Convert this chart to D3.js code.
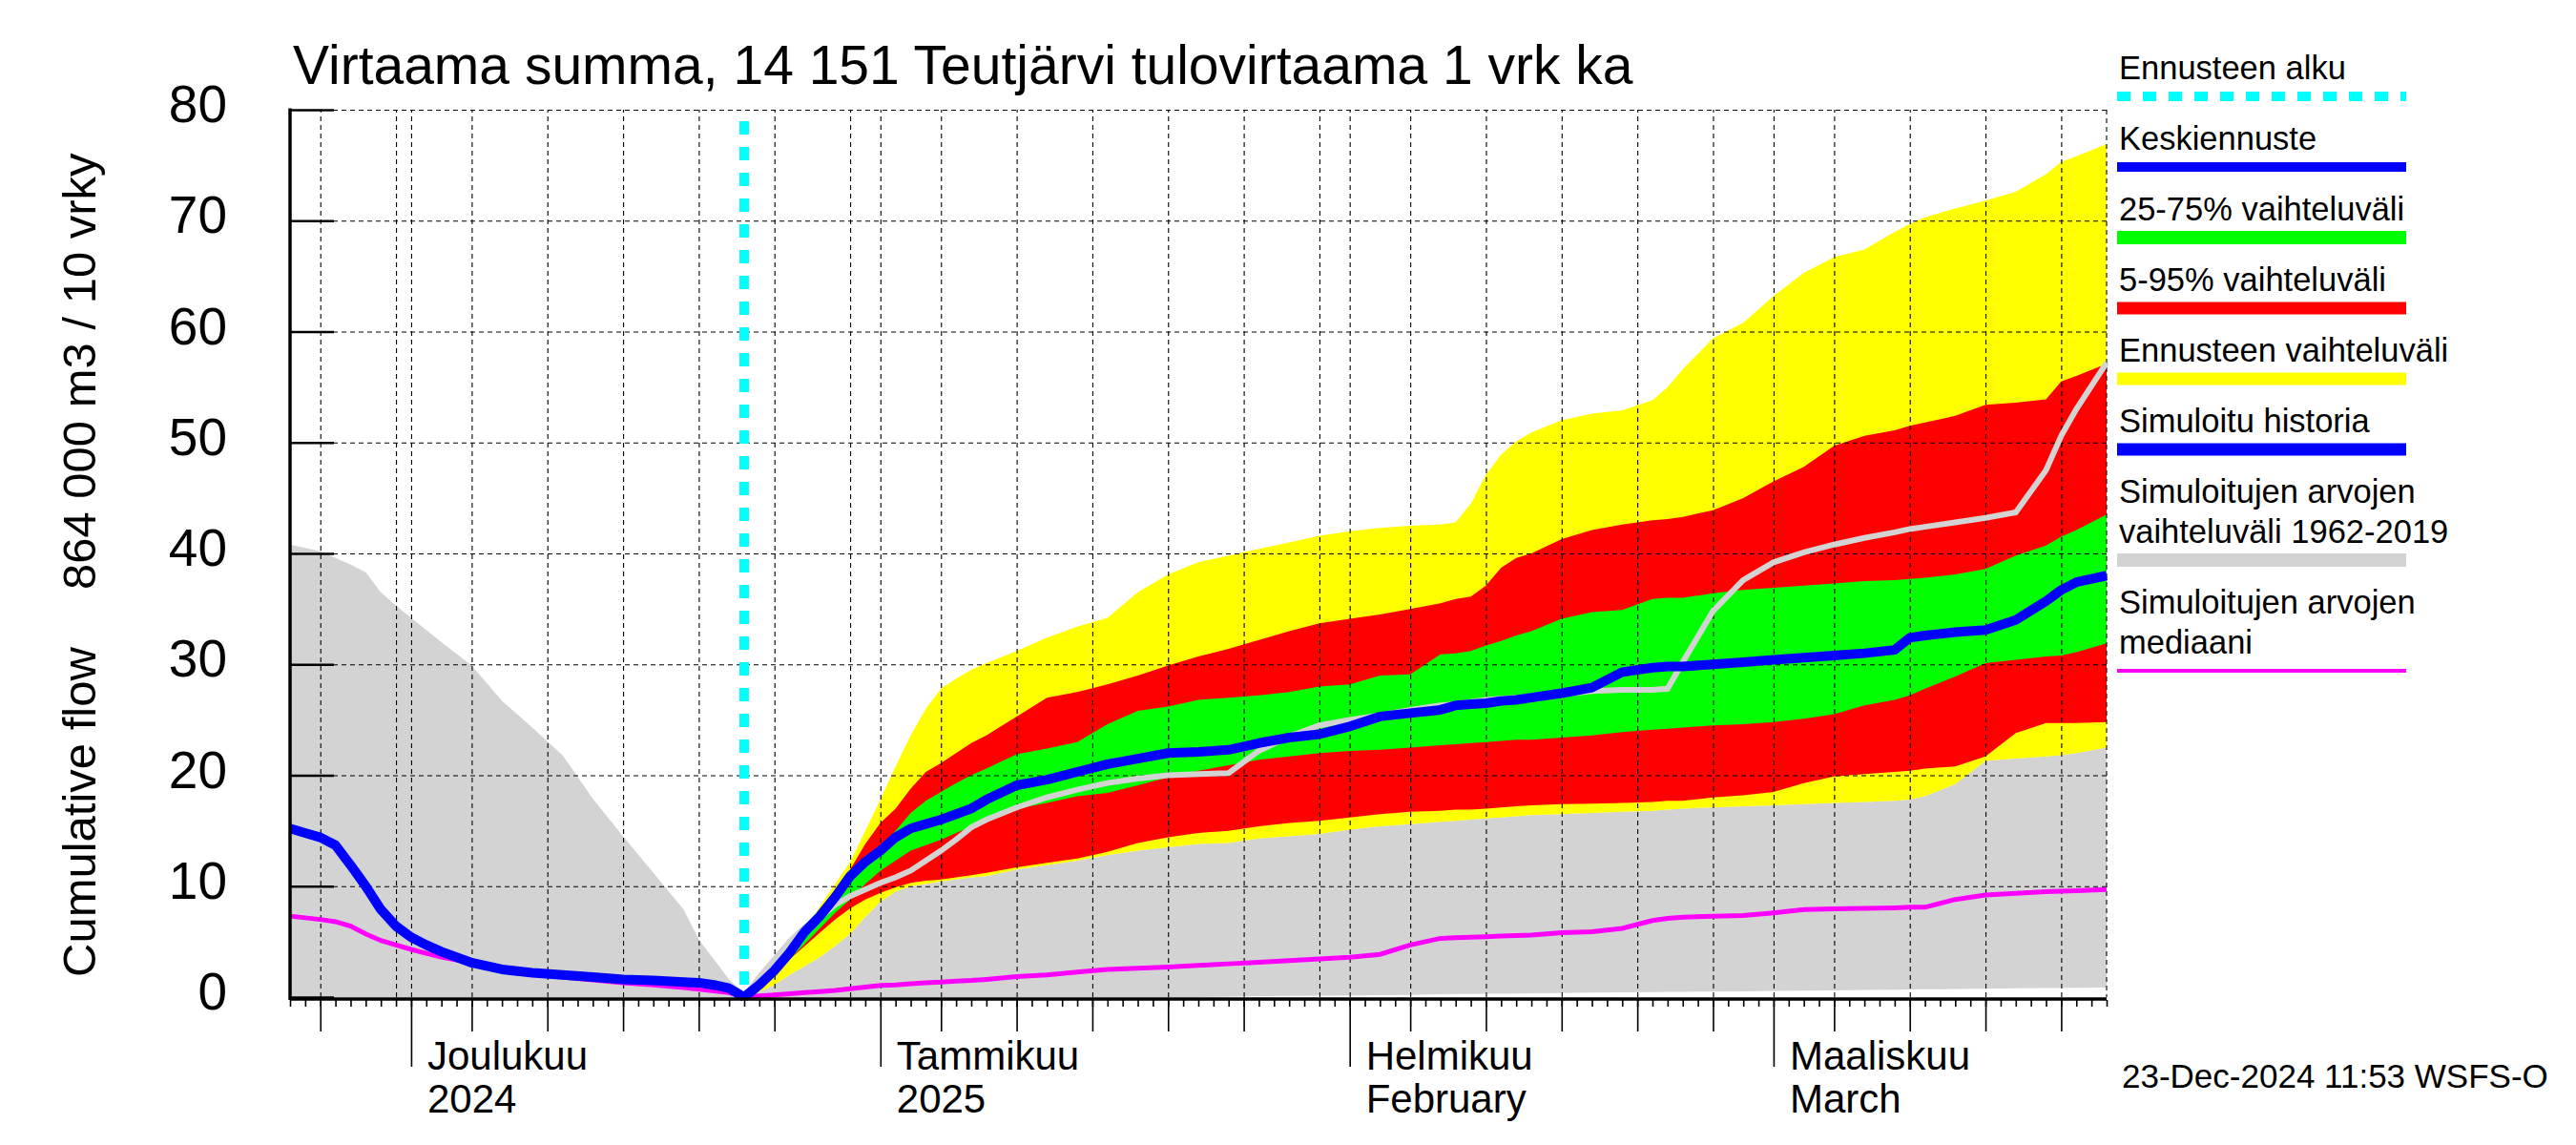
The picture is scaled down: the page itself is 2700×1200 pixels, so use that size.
<!DOCTYPE html>
<html><head><meta charset="utf-8">
<script src="https://cdn.jsdelivr.net/npm/d3@7"></script>
<style>
body{margin:0;background:#fff}
svg{display:block}
text{font-family:"Liberation Sans",Arial,Helvetica,sans-serif;fill:#000}
</style>
</head><body>
<svg id="c" width="2700" height="1200"></svg>
<script>
// ---------- DATA ----------
const histDates = ["2024-11-23","2024-11-24","2024-11-25","2024-11-26","2024-11-27","2024-11-28","2024-11-29","2024-11-30","2024-12-01","2024-12-02","2024-12-03","2024-12-05","2024-12-07","2024-12-09","2024-12-11","2024-12-13","2024-12-15","2024-12-17","2024-12-19","2024-12-20","2024-12-21","2024-12-22","2024-12-23"];
const histSimMax = [40.8,40.5,40.2,39.6,39.0,38.3,36.5,35.3,34.2,33.1,32.0,29.9,26.7,24.3,21.8,17.9,14.5,11.2,7.9,5.2,3.4,1.6,0.4];
const histSimMin = [0,0,0,0,0,0,0,0,0,0,0,0,0,0,0,0,0,0,0,0,0,0,0];
const histSimulated = [15.2,14.8,14.4,13.7,11.9,10.0,7.9,6.4,5.4,4.7,4.1,3.1,2.5,2.2,2.0,1.8,1.6,1.5,1.35,1.3,1.1,0.8,0];
const histSimMedian = [7.3,7.15,7.0,6.8,6.4,5.7,5.1,4.7,4.3,3.95,3.6,3.1,2.6,2.1,1.8,1.55,1.3,1.1,0.85,0.7,0.55,0.4,0];

const fcDates = ["2024-12-23","2024-12-24","2024-12-25","2024-12-26","2024-12-27","2024-12-28","2024-12-29","2024-12-30","2024-12-31","2025-01-01","2025-01-02","2025-01-03","2025-01-04","2025-01-05","2025-01-06","2025-01-07","2025-01-08","2025-01-10","2025-01-12","2025-01-14","2025-01-16","2025-01-18","2025-01-20","2025-01-22","2025-01-24","2025-01-26","2025-01-28","2025-01-30","2025-02-01","2025-02-03","2025-02-05","2025-02-07","2025-02-08","2025-02-09","2025-02-10","2025-02-11","2025-02-12","2025-02-13","2025-02-15","2025-02-17","2025-02-19","2025-02-21","2025-02-22","2025-02-23","2025-02-25","2025-02-27","2025-03-01","2025-03-03","2025-03-05","2025-03-07","2025-03-09","2025-03-10","2025-03-11","2025-03-13","2025-03-15","2025-03-17","2025-03-19","2025-03-20","2025-03-21","2025-03-23"];
const ensMax = [0,1.5,3.0,4.4,6.0,8.2,10.2,12.2,15.0,17.8,20.8,23.6,26.0,27.8,28.7,29.5,30.1,31.2,32.4,33.4,34.2,36.5,38.1,39.2,39.8,40.4,41.0,41.6,42.0,42.3,42.5,42.6,42.8,44.5,47.1,48.9,50.1,50.9,52.0,52.6,52.9,53.8,55.0,56.6,59.4,60.8,63.2,65.3,66.7,67.4,69.0,69.7,70.3,71.1,71.8,72.6,74.2,75.3,75.8,76.9];
const p95 = [0,1.2,2.6,4.0,5.5,7.6,9.3,11.5,13.8,15.7,17.0,18.8,20.3,21.1,22.0,22.9,23.6,25.3,27.0,27.5,28.2,29.0,29.9,30.7,31.4,32.2,33.0,33.7,34.1,34.5,35.0,35.5,35.9,36.1,37.1,38.7,39.6,40.0,41.3,42.1,42.6,43.0,43.1,43.3,43.9,45.0,46.5,47.8,49.7,50.6,51.1,51.5,51.8,52.4,53.4,53.6,53.9,55.5,56.0,57.1];
const p75 = [0,1.2,2.6,4.2,5.8,7.4,9.2,11.0,12.2,13.5,15.0,16.6,17.7,18.5,19.3,20.0,20.6,21.9,22.4,23.0,24.6,25.8,26.2,26.8,27.0,27.2,27.5,28.0,28.2,29.0,29.1,30.9,31.0,31.2,31.7,32.1,32.6,33.0,34.1,34.7,34.9,35.9,36.0,36.0,36.4,36.7,36.9,37.1,37.3,37.5,37.6,37.7,37.8,38.1,38.6,39.8,40.7,41.5,42.1,43.5];
const median = [0,1.1,2.4,4.0,5.9,7.3,9.0,10.9,12.2,13.2,14.4,15.2,15.6,16.0,16.5,17.0,17.8,19.1,19.6,20.3,21.0,21.5,22.0,22.1,22.3,22.9,23.4,23.7,24.4,25.3,25.6,25.9,26.3,26.4,26.5,26.7,26.8,27.0,27.4,27.9,29.3,29.7,29.8,29.8,30.0,30.2,30.4,30.6,30.8,31.0,31.3,32.4,32.6,32.9,33.1,34.0,35.7,36.7,37.4,38.0];
const p25 = [0,0.9,2.0,3.4,4.8,6.2,7.6,8.8,10.2,11.4,12.3,13.2,13.7,14.2,14.8,15.4,16.1,17.0,17.5,18.1,18.4,19.1,19.8,20.4,20.9,21.4,21.7,22.0,22.2,22.3,22.5,22.7,22.8,22.9,23.0,23.1,23.2,23.2,23.4,23.6,23.9,24.1,24.2,24.3,24.5,24.6,24.8,25.1,25.5,26.3,26.8,27.2,27.8,28.9,30.1,30.4,30.7,30.8,31.1,31.9];
const p5 = [0,0.8,2.1,3.4,4.6,5.8,7.0,8.0,8.8,9.4,9.9,10.3,10.5,10.6,10.8,11.0,11.2,11.7,12.1,12.5,13.1,13.9,14.4,14.8,15.0,15.4,15.7,15.9,16.2,16.5,16.7,16.8,16.9,16.9,17.0,17.1,17.2,17.3,17.4,17.45,17.5,17.6,17.7,17.7,18.0,18.2,18.5,19.3,19.9,20.1,20.3,20.4,20.6,20.8,21.7,23.8,24.7,24.7,24.7,24.8];
const ensMin = [0,0.5,1.1,2.0,2.8,3.6,4.6,5.7,7.2,8.6,9.5,10.0,10.2,10.4,10.6,10.8,10.9,11.5,11.9,12.3,12.8,13.2,13.5,13.8,13.9,14.3,14.5,14.7,15.1,15.4,15.6,15.8,15.9,16.0,16.1,16.2,16.3,16.4,16.5,16.6,16.7,16.8,16.9,17.0,17.1,17.2,17.3,17.4,17.5,17.6,17.7,17.8,18.1,19.2,21.3,21.5,21.7,21.8,22.0,22.5];
const simTrace = [0,1.8,3.4,5.0,6.3,7.2,8.3,9.1,9.7,10.3,10.8,11.4,12.3,13.2,14.2,15.3,16.0,17.1,18.0,18.7,19.3,19.7,20.0,20.1,20.2,22.2,23.5,24.5,25.0,25.4,25.9,26.3,26.4,26.6,26.8,26.9,27.0,27.1,27.3,27.6,27.7,27.7,27.8,30.2,34.8,37.6,39.2,40.1,40.8,41.4,41.9,42.2,42.4,42.8,43.2,43.7,47.5,50.6,53.0,57.2];
const fcSimMedian = [0,0.1,0.2,0.3,0.4,0.5,0.6,0.75,0.9,1.05,1.1,1.2,1.3,1.35,1.45,1.5,1.6,1.85,2.0,2.25,2.5,2.6,2.7,2.85,3.0,3.15,3.3,3.45,3.6,3.85,4.7,5.3,5.35,5.4,5.45,5.5,5.55,5.6,5.8,5.9,6.2,6.9,7.1,7.2,7.3,7.35,7.6,7.9,7.95,8.0,8.05,8.1,8.1,8.8,9.2,9.35,9.5,9.55,9.6,9.7];
const fcSimMax = [0.4,0.5,1.1,2.0,2.8,3.6,4.6,5.7,7.2,8.6,9.5,10.0,10.2,10.4,10.6,10.8,10.9,11.5,11.9,12.3,12.8,13.2,13.5,13.8,13.9,14.3,14.5,14.7,15.1,15.4,15.6,15.8,15.9,16.0,16.1,16.2,16.3,16.4,16.5,16.6,16.7,16.8,16.9,17.0,17.1,17.2,17.3,17.4,17.5,17.6,17.7,17.8,18.1,19.2,21.3,21.5,21.7,21.8,22.0,22.5];
const fcSimMin = [0,0,0,0,0,0,0,0,0,0,0,0,0,0,0,0,0,0,0,0,0,0,0,0,0.05,0.08,0.1,0.12,0.15,0.18,0.2,0.25,0.27,0.28,0.3,0.31,0.32,0.34,0.37,0.4,0.43,0.46,0.47,0.48,0.5,0.52,0.55,0.58,0.61,0.64,0.67,0.69,0.7,0.73,0.76,0.79,0.81,0.82,0.83,0.85];

const yTicks = [0,10,20,30,40,50,60,70,80];
const monthStarts = ["2024-12-01","2025-01-01","2025-02-01","2025-03-01"];
const monthNames = ["Joulukuu","Tammikuu","Helmikuu","Maaliskuu"];
const monthSub = ["2024","2025","February","March"];
const forecastStart = "2024-12-23";
const titleText = "Virtaama summa, 14 151 Teutjärvi tulovirtaama 1 vrk ka";
const yLabel1 = "Cumulative flow";
const yLabel2 = "864 000 m3 / 10 vrky";
const stamp = "23-Dec-2024 11:53 WSFS-O";
const legendLabels = [["Ennusteen alku"],["Keskiennuste"],["25-75% vaihteluväli"],["5-95% vaihteluväli"],["Ennusteen vaihteluväli"],["Simuloitu historia"],["Simuloitujen arvojen","vaihteluväli 1962-2019"],["Simuloitujen arvojen","mediaani"]];

// ---------- SETUP ----------
const parse = d3.utcParse("%Y-%m-%d");
const x0 = parse("2024-11-23"), x1 = parse("2025-03-23");
const L = 304, R = 2208, T = 115, B = 1045;
const x = d3.scaleUtc().domain([x0, x1]).range([L, R]);
const y = d3.scaleLinear().domain([0, 80]).range([B, T]);
const svg = d3.select("#c");

const COL = {yellow:"#ffff00", red:"#ff0000", green:"#00ff00", blue:"#0000ff", magenta:"#ff00ff", cyan:"#00ffff", gray:"#d3d3d3"};

const fc = fcDates.map(parse);
const hd = histDates.map(parse);
const area = d3.area().x(d => x(d[0])).y0(d => y(d[1])).y1(d => y(d[2]));
const line = d3.line().x(d => x(d[0])).y(d => y(d[1]));

// gray simulated range (history + forecast period)
const grayPts = hd.map((d,i)=>[d, histSimMin[i], histSimMax[i]]).concat(fc.slice(1).map((d,i)=>[d, fcSimMin[i+1], fcSimMax[i+1]]));
svg.append("path").attr("d", area(grayPts)).attr("fill", COL.gray);

function band(lo, hi, color){
  svg.append("path").attr("d", area(fc.map((d,i)=>[d, lo[i], hi[i]]))).attr("fill", color);
}
band(ensMin, ensMax, COL.yellow);
band(p5, p95, COL.red);
band(p25, p75, COL.green);

// ---------- GRID ----------
const allDays = d3.utcDay.range(x0, d3.utcDay.offset(x1, 1));
const gridDays = allDays.filter(d => [1,5,10,15,20,25,30].includes(d.getUTCDate()) && +d !== +parse(forecastStart) && d < x1);
const gx = svg.append("g").attr("transform", `translate(0,${B})`)
  .call(d3.axisBottom(x).tickValues(gridDays).tickSize(-(B - T)).tickFormat(""));
gx.select(".domain").remove();
gx.selectAll("line").attr("stroke", "#000").attr("stroke-width", 1.1).attr("stroke-dasharray", "5,4");
const gy = svg.append("g").attr("transform", `translate(${L},0)`)
  .call(d3.axisLeft(y).tickValues(yTicks.filter(v => v > 0)).tickSize(-(R - L)).tickFormat(""));
gy.select(".domain").remove();
gy.selectAll("line").attr("stroke", "#000").attr("stroke-width", 1.1).attr("stroke-dasharray", "5,4");
svg.append("line").attr("x1", R).attr("x2", R).attr("y1", T).attr("y2", B)
  .attr("stroke", "#000").attr("stroke-width", 1.1).attr("stroke-dasharray", "5,4");

// ---------- LINES ----------
svg.append("path").attr("d", line(fc.map((d,i)=>[d, simTrace[i]]))).attr("fill","none")
  .attr("stroke", COL.gray).attr("stroke-width", 6);
svg.append("path").attr("d", line(hd.map((d,i)=>[d, histSimMedian[i]]).concat(fc.slice(1).map((d,i)=>[d, fcSimMedian[i+1]])))).attr("fill","none")
  .attr("stroke", COL.magenta).attr("stroke-width", 5);
svg.append("path").attr("d", line(hd.map((d,i)=>[d, histSimulated[i]]))).attr("fill","none")
  .attr("stroke", COL.blue).attr("stroke-width", 10).attr("stroke-linejoin","round");
svg.append("path").attr("d", line(fc.map((d,i)=>[d, median[i]]))).attr("fill","none")
  .attr("stroke", COL.blue).attr("stroke-width", 10).attr("stroke-linejoin","round");
// forecast start
svg.append("line").attr("x1", x(parse(forecastStart))).attr("x2", x(parse(forecastStart)))
  .attr("y1", 127).attr("y2", B).attr("stroke", COL.cyan).attr("stroke-width", 10).attr("stroke-dasharray", "14,13");

// ---------- AXES ----------
const ya = svg.append("g").attr("transform", `translate(${L},0)`)
  .call(d3.axisLeft(y).tickValues(yTicks).tickSize(-46).tickPadding(66).tickFormat(d3.format("d")));
ya.select(".domain").remove();
ya.selectAll("line").attr("stroke", "#000").attr("stroke-width", 2.5);
ya.selectAll("text").attr("font-size", 55).attr("dy", "0.23em").style("font-family", '"Liberation Sans",Arial,sans-serif');
svg.append("line").attr("x1", L).attr("x2", L).attr("y1", T - 1.5).attr("y2", B + 3).attr("stroke", "#000").attr("stroke-width", 3.5);
svg.append("line").attr("x1", L).attr("x2", R).attr("y1", B + 2).attr("y2", B + 2).attr("stroke", "#000").attr("stroke-width", 3.5);

function xTicks(vals, len){
  const g = svg.append("g").attr("transform", `translate(0,${B + 3})`)
    .call(d3.axisBottom(x).tickValues(vals).tickSize(len).tickFormat(""));
  g.select(".domain").remove();
  g.selectAll("line").attr("stroke", "#000").attr("stroke-width", 1.6);
}
xTicks(allDays.filter(d => d <= x1), 7);
xTicks(allDays.filter(d => [5,10,15,20,25].includes(d.getUTCDate())), 33);
xTicks(allDays.filter(d => d.getUTCDate() === 1), 70);

monthStarts.forEach((m, i) => {
  const xx = x(parse(m)) + 17;
  svg.append("text").attr("x", xx).attr("y", 1121).attr("font-size", 42).text(monthNames[i]);
  svg.append("text").attr("x", xx).attr("y", 1166).attr("font-size", 42).text(monthSub[i]);
});

// ---------- TEXTS ----------
svg.append("text").attr("x", 307).attr("y", 88).attr("font-size", 57).text(titleText);
svg.append("text").attr("transform", "translate(100,1024) rotate(-90)").attr("font-size", 49).text(yLabel1);
svg.append("text").attr("transform", "translate(100,618) rotate(-90)").attr("font-size", 49).text(yLabel2);
svg.append("text").attr("x", 2224).attr("y", 1140).attr("font-size", 35).text(stamp);

// ---------- LEGEND ----------
const legendStyle = [
  {color: COL.cyan, w: 10, dash: "14,13"},
  {color: COL.blue, w: 10},
  {color: COL.green, w: 14},
  {color: COL.red, w: 13},
  {color: COL.yellow, w: 13},
  {color: COL.blue, w: 13},
  {color: COL.gray, w: 14},
  {color: COL.magenta, w: 4}
];
let by = 83;
legendLabels.forEach((lab, i) => {
  lab.forEach((t, j) => {
    svg.append("text").attr("x", 2221).attr("y", by + j * 42).attr("font-size", 34.5).text(t);
  });
  const ly = by + (lab.length - 1) * 42 + 18;
  const s = legendStyle[i];
  svg.append("line").attr("x1", 2219).attr("x2", 2522).attr("y1", ly).attr("y2", ly)
    .attr("stroke", s.color).attr("stroke-width", s.w).attr("stroke-dasharray", s.dash || null);
  by = ly + 56;
});
</script>
</body></html>
